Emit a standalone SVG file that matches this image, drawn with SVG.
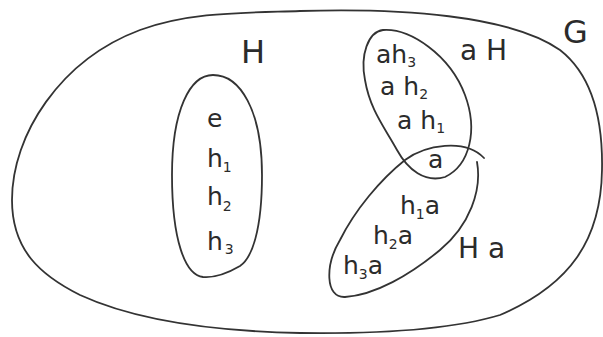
<svg xmlns="http://www.w3.org/2000/svg" width="603" height="337" viewBox="0 0 603 337">
<style>
.loop{fill:none;stroke:#333;stroke-width:1.8;stroke-linecap:round;stroke-linejoin:round}
.t{font-family:"DejaVu Sans","Liberation Sans",sans-serif;fill:#2b2b2b;font-size:25px}
.big{font-family:"DejaVu Sans","Liberation Sans",sans-serif;fill:#2b2b2b;font-size:32px}
.sub{font-size:14px}
</style>
<rect width="603" height="337" fill="#fff"/>
<g id="G">
<path class="loop" d="M 12 200 C 12 135, 60 60, 140 30 C 190 12, 240 13, 300 11 C 400 8, 510 15, 560 50 C 592 75, 603 120, 602 170 C 601 240, 570 285, 500 315 C 450 330, 380 334, 300 333 C 200 331, 130 318, 80 295 C 40 275, 12 250, 12 200 Z"/>
<text class="big" x="563" y="43">G</text>
</g>
<g id="H">
<path class="loop" d="M 213 75 C 240 75, 262 110, 262 175 C 262 230, 252 258, 240 266 C 228 273, 215 278, 203 277 C 185 275, 172 240, 172 175 C 172 110, 190 75, 213 75 Z"/>
<text class="big" x="241" y="63">H</text>
<text class="t" x="207" y="127">e</text>
<text class="t" x="207" y="167">h<tspan class="sub" dy="5">1</tspan></text>
<text class="t" x="207" y="205">h<tspan class="sub" dy="6">2</tspan></text>
<text class="t" x="207" y="250">h<tspan class="sub" dx="2" dy="4">3</tspan></text>
</g>
<g id="aH">
<path class="loop" d="M 383 30 C 410 28, 450 55, 465 95 C 478 130, 470 165, 445 177 C 425 183, 408 170, 397 150 C 385 128, 370 110, 365 80 C 360 55, 368 32, 383 30 Z"/>
<text class="big" x="460" y="60" style="font-size:28px">a H</text>
<text class="t" x="376" y="63">ah<tspan class="sub" dy="4">3</tspan></text>
<text class="t" x="380" y="95">a h<tspan class="sub" dy="4">2</tspan></text>
<text class="t" x="397" y="129">a h<tspan class="sub" dy="4">1</tspan></text>
<text class="t" x="428" y="168">a</text>
</g>
<g id="Ha">
<path class="loop" d="M 477 162 C 482 190, 470 225, 440 250 C 410 275, 375 295, 345 297 C 325 298, 325 265, 340 240 C 355 210, 380 180, 405 160 C 425 145, 465 138, 484 158"/>
<text class="big" x="458" y="258" style="font-size:28px">H a</text>
<text class="t" x="400" y="214">h<tspan class="sub" dy="5">1</tspan><tspan dy="-5">a</tspan></text>
<text class="t" x="373" y="244">h<tspan class="sub" dy="5">2</tspan><tspan dy="-5">a</tspan></text>
<text class="t" x="343" y="274">h<tspan class="sub" dy="5">3</tspan><tspan dy="-5">a</tspan></text>
</g>
<g id="connectors"/>
</svg>
